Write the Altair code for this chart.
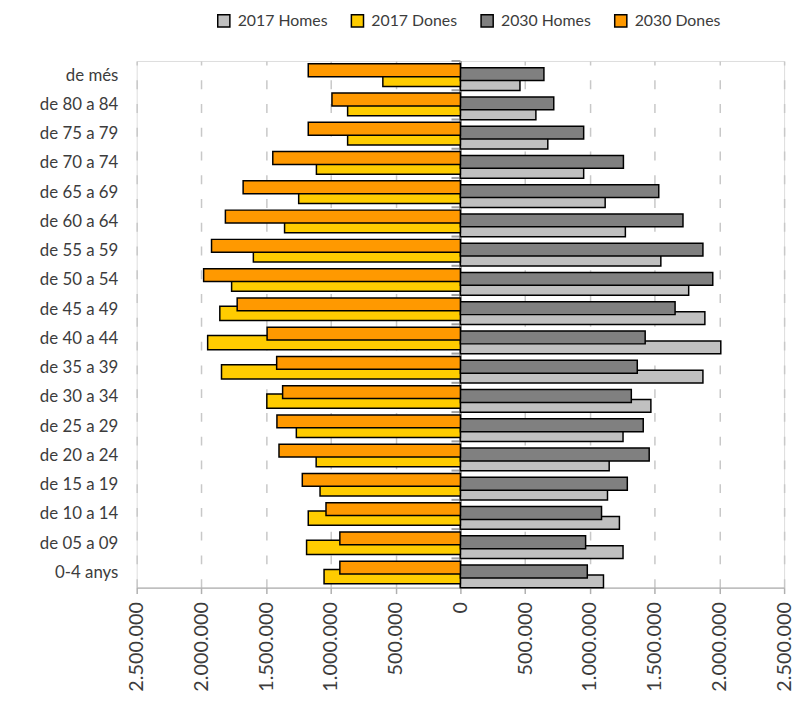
import altair as alt
import pandas as pd

ages = ["de més", "de 80 a 84", "de 75 a 79", "de 70 a 74", "de 65 a 69", "de 60 a 64",
        "de 55 a 59", "de 50 a 54", "de 45 a 49", "de 40 a 44", "de 35 a 39", "de 30 a 34",
        "de 25 a 29", "de 20 a 24", "de 15 a 19", "de 10 a 14", "de 05 a 09", "0-4 anys"]

homes_2017 = [460000, 583000, 675000, 952000, 1118000, 1274000, 1548000, 1763000, 1888000,
              2011000, 1873000, 1471000, 1256000, 1149000, 1136000, 1228000, 1256000, 1105000]
dones_2017 = [599000, 871000, 871000, 1112000, 1249000, 1358000, 1599000, 1767000, 1858000,
              1952000, 1845000, 1495000, 1267000, 1114000, 1084000, 1175000, 1188000, 1053000]
homes_2030 = [645000, 721000, 952000, 1259000, 1532000, 1719000, 1873000, 1949000, 1658000,
              1427000, 1366000, 1320000, 1412000, 1458000, 1289000, 1090000, 967000, 980000]
dones_2030 = [1175000, 992000, 1175000, 1449000, 1678000, 1815000, 1922000, 1983000, 1724000,
              1493000, 1419000, 1373000, 1417000, 1401000, 1221000, 1038000, 931000, 931000]

series = ["2017 Homes", "2017 Dones", "2030 Homes", "2030 Dones"]
colors = ["#C0C0C0", "#FFCC00", "#808080", "#FF9900"]
tick_values = [-2500000, -2000000, -1500000, -1000000, -500000, 0,
               500000, 1000000, 1500000, 2000000, 2500000]

rows = []
for i, a in enumerate(ages):
    rows.append({"age": a, "serie": "2017 Homes", "value": homes_2017[i]})
    rows.append({"age": a, "serie": "2017 Dones", "value": -dones_2017[i]})
    rows.append({"age": a, "serie": "2030 Homes", "value": homes_2030[i]})
    rows.append({"age": a, "serie": "2030 Dones", "value": -dones_2030[i]})
df = pd.DataFrame(rows)
ages_df = pd.DataFrame({"age": ages})

FONT = "Lato"
TXT = "#3c3c3c"

yscale = alt.Scale(domain=ages, paddingInner=0, paddingOuter=0)
xscale = alt.Scale(domain=[-2500000, 2500000], nice=False, zero=False)

x_enc = alt.X(
    "value:Q", scale=xscale, title=None,
    axis=alt.Axis(
        values=tick_values,
        labelExpr="replace(format(abs(datum.value), ','), regexp(',', 'g'), '.')",
        labelAngle=270, labelFontSize=20, labelFont=FONT, labelColor=TXT,
        labelPadding=8, labelOverlap=False,
        grid=True, gridDash=[9, 15], gridColor="#c8c8c8", gridWidth=1.5,
        domainColor="#b0b0b0", domainWidth=1.5,
        tickColor="#b0b0b0", tickSize=6, tickWidth=1.5,
    ),
)
y_enc = alt.Y(
    "age:N", sort=ages, scale=yscale, title=None,
    axis=alt.Axis(
        ticks=False, domain=False, labelFontSize=17, labelFont=FONT,
        labelColor=TXT, labelPadding=19,
    ),
)
color_enc = alt.Color(
    "serie:N",
    scale=alt.Scale(domain=series, range=colors),
    legend=alt.Legend(
        title=None, orient="none", direction="horizontal", legendX=80, legendY=-49,
        symbolType="square", symbolSize=150, symbolStrokeColor="black",
        symbolStrokeWidth=1.5, symbolOpacity=1, labelFontSize=16, labelFont=FONT,
        labelColor=TXT, labelOffset=6, columnPadding=20, padding=0,
    ),
)

base = alt.Chart(df)

center = alt.Chart(ages_df).mark_rule(color="#a0a0a0", strokeWidth=1.5).encode(
    x=alt.datum(0, scale=xscale)
)
ticks = alt.Chart(ages_df).mark_rule(color="#a0a0a0", strokeWidth=2, xOffset=-9).encode(
    x=alt.datum(0), x2=alt.datum(0),
    y=alt.Y("age:N", sort=ages, scale=yscale, bandPosition=0),
)

params = {
    "2017 Homes": (13, 8.5),
    "2017 Dones": (14.5, 3.7),
    "2030 Homes": (13, -1.5),
    "2030 Dones": (13, -5.4),
}

layers = []
for s in series:
    size, off = params[s]
    layers.append(
        base.transform_filter(alt.datum.serie == s)
        .mark_bar(size=size, yOffset=off, stroke="black", strokeWidth=1.5, opacity=1)
        .encode(x=x_enc, y=y_enc, color=color_enc)
    )

chart = alt.layer(center, ticks, *layers).properties(
    width=654, height=532,
    autosize=alt.AutoSizeParams(type="none"),
    padding={"left": 130, "top": 50, "right": 11, "bottom": 110},
).configure_view(stroke="#d0d0d0", strokeWidth=1.5).configure(font=FONT)

chart.save("out.html", embed_options={"renderer": "svg", "actions": False})
